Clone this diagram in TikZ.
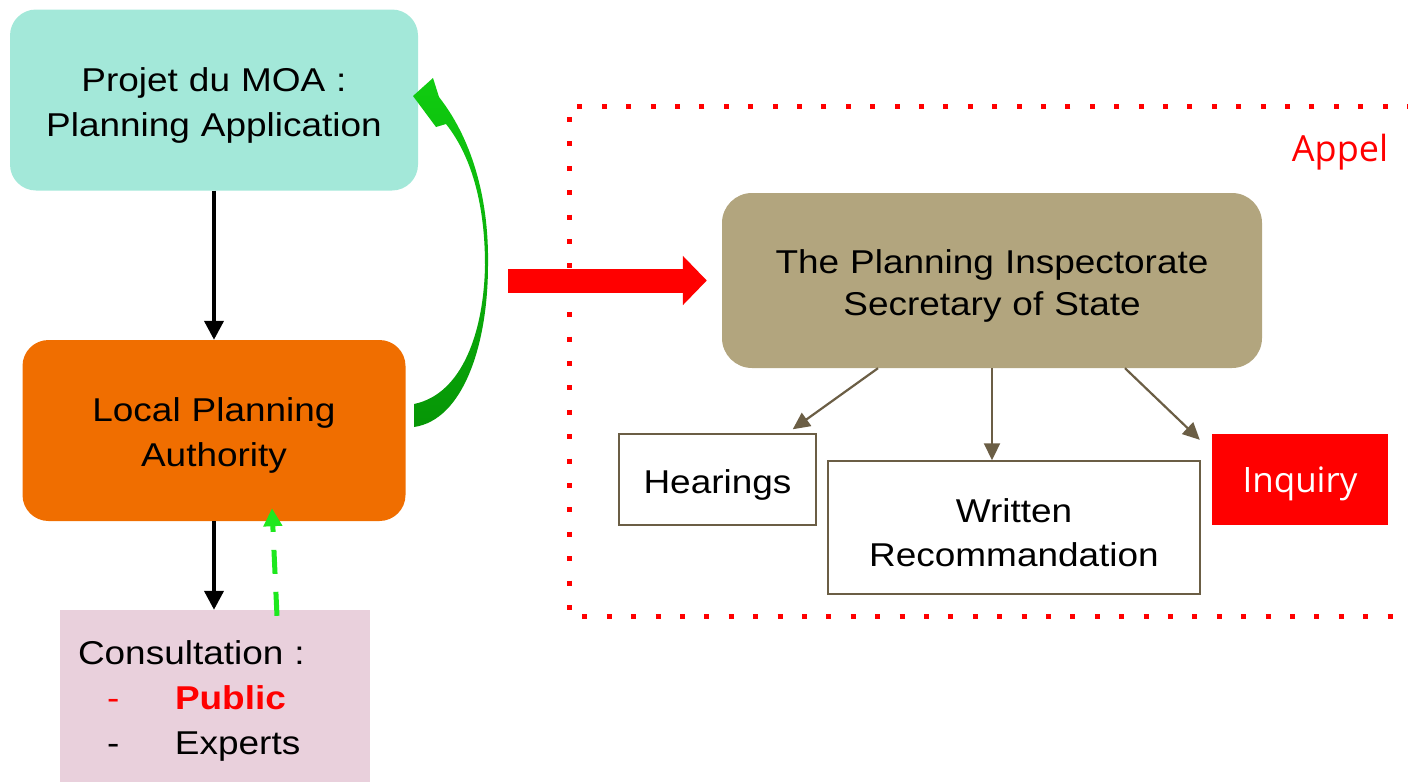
\documentclass[tikz,border=0pt]{standalone}
\usepackage{fontspec}
\setmainfont{Liberation Sans}[FakeStretch=1.12]
\newfontfamily\segoe{Open Sans}
\usetikzlibrary{arrows.meta}

\definecolor{moaTeal}{RGB}{163,232,217}
\definecolor{lpaOrange}{RGB}{240,110,0}
\definecolor{consPink}{RGB}{233,208,220}
\definecolor{pinsTan}{RGB}{178,165,126}
\definecolor{pinsLine}{RGB}{107,94,69}
\definecolor{appelRed}{RGB}{255,0,0}
\definecolor{dashGreen}{RGB}{30,232,30}
\definecolor{curveTop}{RGB}{16,204,16}
\definecolor{curveBot}{RGB}{6,150,6}

\begin{document}
\begin{tikzpicture}[x=1pt, y=-1pt,
    box/.style={inner sep=0pt, align=center, font=\fontsize{33}{45}\selectfont,
                execute at begin node={\rule{0pt}{34pt}}},
    main node/.style={box, rounded corners=26pt},
    sub node/.style={box, draw=pinsLine, line width=1.5pt},
    down/.style={-{Triangle[length=19pt,width=19pt]}, line width=4pt},
    sub arrow/.style={-{Triangle[length=17pt,width=16pt]}, draw=pinsLine, line width=2.2pt}]

  \useasboundingbox (0,0) rectangle (1408,782);

  % left column
  \node[main node, fill=moaTeal, text width=408pt, minimum height=181pt] (moa) at (214,100)
    {Projet du MOA :\\Planning Application};
  \node[main node, fill=lpaOrange, text width=383pt, minimum height=181pt] (lpa) at (214,430.5)
    {Local Planning\\Authority};
  \node[box, fill=consPink, align=left, inner xsep=18pt, text width=274pt,
        minimum height=172pt] (cons) at (215,696)
    {Consultation :\\
     \hspace*{29pt}\makebox[68pt][l]{\color{appelRed}-}{\color{appelRed}\bfseries Public}\\
     \hspace*{29pt}\makebox[68pt][l]{-}Experts};

  \draw[down] (moa.south) -- (moa.south |- lpa.north);
  \draw[down] (lpa.south) -- (lpa.south |- cons.north);
  \draw[dashGreen, line width=5pt, dash pattern=on 24pt off 18pt,
        -{Triangle[length=18pt,width=18pt]}]
    ([xshift=62pt,yshift=-6pt]cons.north) -- ([xshift=58pt,yshift=13pt]lpa.south);

  % curved return arrow
  \shade[top color=curveTop, bottom color=curveBot]
    (414,404) .. controls (463,394) and (484,330) .. (485,265)
    .. controls (485,208) and (473,158) .. (446,124)
    -- (436,127) -- (413,96) -- (433,78) -- (439,97)
    .. controls (475,143) and (489,205) .. (488,265)
    .. controls (488,345) and (463,420) .. (414,427) -- cycle;

  % appeal frame
  \draw[appelRed, line width=5pt, dash pattern=on 5pt off 19.4pt]
    (1412,106) -- (569,106) -- (569,616) -- (1412,616);
  \node[font=\segoe\fontsize{36}{40}\selectfont, text=appelRed] (appel) at (1340,152) {Appel};

  \node[main node, fill=pinsTan, rounded corners=30pt, text width=540pt, minimum height=175pt,
        font=\fontsize{33}{42}\selectfont] (pins) at (992,280.5)
    {The Planning Inspectorate\\Secretary of State};
  \node[sub node, text width=197pt, minimum height=91pt] (hear) at (717.5,479.5) {Hearings};
  \node[sub node, text width=372pt, minimum height=133pt, font=\fontsize{33}{44}\selectfont]
    (wr) at (1014,527.5) {Written\\Recommandation};
  \node[box, fill=appelRed, text=white, text width=176pt, minimum height=91pt,
        font=\segoe\fontsize{35}{40}\selectfont] (inq) at (1300,479.5) {Inquiry};

  \coordinate (redstart) at (508,280.5);
  \draw[appelRed, line width=24pt, -{Triangle[length=24pt,width=48pt]}, shorten >=15pt]
    (redstart) -- (pins.west);

  \draw[sub arrow] ([xshift=-114pt]pins.south) -- ([xshift=-24pt,yshift=4pt]hear.north east);
  \draw[sub arrow] (pins.south) -- ([xshift=-22pt]wr.north);
  \draw[sub arrow] ([xshift=133pt]pins.south) -- ([xshift=-12pt,yshift=-6pt]inq.north west);
\end{tikzpicture}
\end{document}
